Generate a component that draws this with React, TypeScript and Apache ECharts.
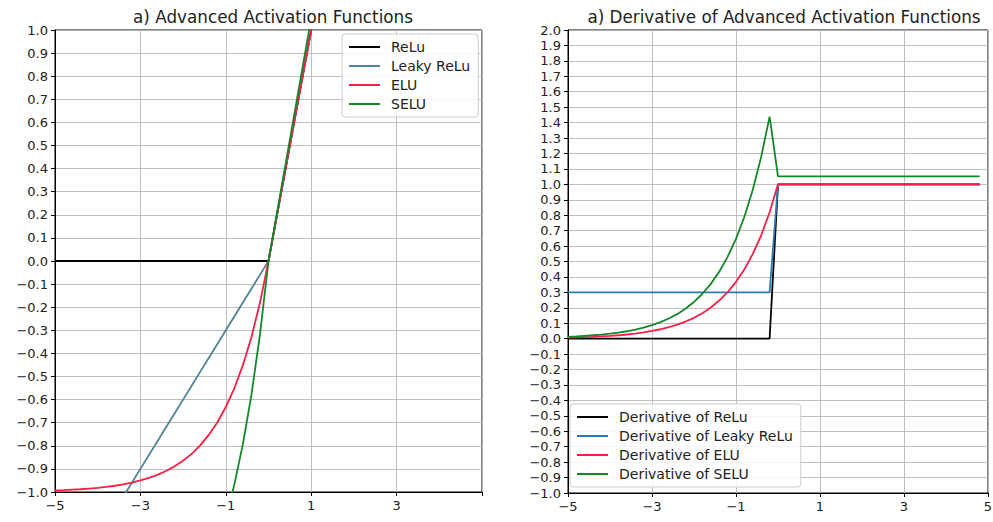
import React, { useEffect, useRef } from "react";
import * as echarts from "echarts";

// ---- data ----
const X = [-5, -4.8, -4.6, -4.4, -4.2, -4, -3.8, -3.6, -3.4, -3.2, -3, -2.8, -2.6, -2.4, -2.2, -2, -1.8, -1.6, -1.4, -1.2, -1, -0.8, -0.6, -0.4, -0.2,
  0, 0.2, 0.4, 0.6, 0.8, 1, 1.2, 1.4, 1.6, 1.8, 2, 2.2, 2.4, 2.6, 2.8, 3, 3.2, 3.4, 3.6, 3.8, 4, 4.2, 4.4, 4.6, 4.8];

const RELU = [0, 0, 0, 0, 0, 0, 0, 0, 0, 0, 0, 0, 0, 0, 0, 0, 0, 0, 0, 0, 0, 0, 0, 0, 0,
  0, 0.2, 0.4, 0.6, 0.8, 1, 1.2, 1.4, 1.6, 1.8, 2, 2.2, 2.4, 2.6, 2.8, 3, 3.2, 3.4, 3.6, 3.8, 4, 4.2, 4.4, 4.6, 4.8];
const LEAKY = [-1.5, -1.44, -1.38, -1.32, -1.26, -1.2, -1.14, -1.08, -1.02, -0.96, -0.9, -0.84, -0.78, -0.72, -0.66, -0.6, -0.54, -0.48, -0.42, -0.36, -0.3, -0.24, -0.18, -0.12, -0.06,
  0, 0.2, 0.4, 0.6, 0.8, 1, 1.2, 1.4, 1.6, 1.8, 2, 2.2, 2.4, 2.6, 2.8, 3, 3.2, 3.4, 3.6, 3.8, 4, 4.2, 4.4, 4.6, 4.8];
const ELU = [-0.993, -0.992, -0.99, -0.988, -0.985, -0.982, -0.978, -0.973, -0.967, -0.959, -0.95, -0.939, -0.926, -0.909, -0.889, -0.865, -0.835, -0.798, -0.753, -0.699, -0.632, -0.551, -0.451, -0.33, -0.181,
  0, 0.2, 0.4, 0.6, 0.8, 1, 1.2, 1.4, 1.6, 1.8, 2, 2.2, 2.4, 2.6, 2.8, 3, 3.2, 3.4, 3.6, 3.8, 4, 4.2, 4.4, 4.6, 4.8];
const SELU = [-1.746, -1.744, -1.74, -1.737, -1.732, -1.726, -1.719, -1.71, -1.699, -1.686, -1.671, -1.651, -1.628, -1.599, -1.563, -1.52, -1.468, -1.403, -1.325, -1.229, -1.111, -0.968, -0.793, -0.58, -0.319,
  0, 0.21, 0.42, 0.63, 0.841, 1.051, 1.261, 1.471, 1.681, 1.891, 2.101, 2.312, 2.522, 2.732, 2.942, 3.152, 3.362, 3.572, 3.783, 3.993, 4.203, 4.413, 4.623, 4.833, 5.043];

const D_RELU = [0, 0, 0, 0, 0, 0, 0, 0, 0, 0, 0, 0, 0, 0, 0, 0, 0, 0, 0, 0, 0, 0, 0, 0, 0,
  1, 1, 1, 1, 1, 1, 1, 1, 1, 1, 1, 1, 1, 1, 1, 1, 1, 1, 1, 1, 1, 1, 1, 1, 1];
const D_LEAKY = [0.3, 0.3, 0.3, 0.3, 0.3, 0.3, 0.3, 0.3, 0.3, 0.3, 0.3, 0.3, 0.3, 0.3, 0.3, 0.3, 0.3, 0.3, 0.3, 0.3, 0.3, 0.3, 0.3, 0.3, 0.3,
  1, 1, 1, 1, 1, 1, 1, 1, 1, 1, 1, 1, 1, 1, 1, 1, 1, 1, 1, 1, 1, 1, 1, 1, 1];
const D_ELU = [0.007, 0.008, 0.01, 0.012, 0.015, 0.018, 0.022, 0.027, 0.033, 0.041, 0.05, 0.061, 0.074, 0.091, 0.111, 0.135, 0.165, 0.202, 0.247, 0.301, 0.368, 0.449, 0.549, 0.67, 0.819,
  1, 1, 1, 1, 1, 1, 1, 1, 1, 1, 1, 1, 1, 1, 1, 1, 1, 1, 1, 1, 1, 1, 1, 1, 1];
const D_SELU = [0.012, 0.014, 0.018, 0.022, 0.026, 0.032, 0.039, 0.048, 0.059, 0.072, 0.088, 0.107, 0.131, 0.159, 0.195, 0.238, 0.291, 0.355, 0.434, 0.53, 0.647, 0.79, 0.965, 1.178, 1.439,
  1.051, 1.051, 1.051, 1.051, 1.051, 1.051, 1.051, 1.051, 1.051, 1.051, 1.051, 1.051, 1.051, 1.051, 1.051, 1.051, 1.051, 1.051, 1.051, 1.051, 1.051, 1.051, 1.051, 1.051, 1.051];

const LEFT_NAMES = ["ReLu", "Leaky ReLu", "ELU", "SELU"];
const RIGHT_NAMES = ["Derivative of ReLu", "Derivative of Leaky ReLu", "Derivative of ELU", "Derivative of SELU"];
const TITLES = ["a) Advanced Activation Functions", "a) Derivative of Advanced Activation Functions"];

const FONT = "DejaVu Sans";
const TXT = "#222222";
const COLORS_L = ["#000000", "#4f8496", "#fa1e44", "#15872b"];
const COLORS_R = ["#000000", "#2b7bb3", "#fa1e44", "#15872b"];

const pairs = (ys: number[]) => X.map((x, i) => [x, ys[i]]);
const fmtY = (v: number) => {
  let r = Math.round(v * 10) / 10;
  if (Math.abs(r) < 1e-9) r = 0;
  return r.toFixed(1).replace("-", "\u2212");
};
const fmtX = (hide5: boolean) => (v: number) => {
  const r = Math.round(v);
  if (hide5 && r === 5) return "";
  return String(r).replace("-", "\u2212");
};

const gridLine = { show: true, lineStyle: { color: "#b8b8b8", width: 0.9 } };
const axisLine = { show: true, onZero: false, lineStyle: { color: "#000", width: 1 } };
const axisTick = { show: true, length: 4, lineStyle: { color: "#000", width: 1 } };
const label = { color: TXT, fontFamily: FONT, fontSize: 13, margin: 7 };

const legendBase = {
  orient: "vertical" as const,
  icon: "rect",
  itemWidth: 31,
  itemHeight: 2,
  itemGap: 3,
  padding: [5, 8, 5, 7],
  backgroundColor: "rgba(255,255,255,0.85)",
  borderColor: "#cccccc",
  borderWidth: 1,
  borderRadius: 3,
  textStyle: { color: TXT, fontFamily: FONT, fontSize: 14, lineHeight: 16, padding: [0, 0, 0, 6] },
};

export default function App() {
  const ref = useRef<HTMLDivElement>(null);
  useEffect(() => {
    if (!ref.current) return;
    const chart = echarts.init(ref.current, undefined, { renderer: "svg" });
    const leftData = [RELU, LEAKY, ELU, SELU];
    const rightData = [D_RELU, D_LEAKY, D_ELU, D_SELU];
    const titleStyle = { fontFamily: FONT, fontSize: 16.8, fontWeight: "normal", color: TXT };
    const option: any = {
      animation: false,
      backgroundColor: "#ffffff",
      title: [
        { text: TITLES[0], left: 268, top: 3, textAlign: "center", textStyle: titleStyle },
        { text: TITLES[1], left: 779, top: 3, textAlign: "center", textStyle: titleStyle },
      ],
      grid: [
        { left: 55, top: 30, width: 427, height: 462, show: true, borderColor: "#000", borderWidth: 1, containLabel: false, outerBoundsMode: "none" },
        { left: 568, top: 30, width: 420, height: 463, show: true, borderColor: "#000", borderWidth: 1, containLabel: false, outerBoundsMode: "none" },
      ],
      xAxis: [
        { type: "value", gridIndex: 0, min: -5, max: 5, interval: 2, axisLine, axisTick, splitLine: gridLine, axisLabel: { ...label, formatter: fmtX(true) } },
        { type: "value", gridIndex: 1, min: -5, max: 5, interval: 2, axisLine, axisTick, splitLine: gridLine, axisLabel: { ...label, formatter: fmtX(false) } },
      ],
      yAxis: [
        { type: "value", gridIndex: 0, min: -1, max: 1, interval: 0.1, axisLine, axisTick, splitLine: gridLine, axisLabel: { ...label, formatter: fmtY } },
        { type: "value", gridIndex: 1, min: -1, max: 2, interval: 0.1, axisLine, axisTick, splitLine: gridLine, axisLabel: { ...label, formatter: fmtY } },
      ],
      legend: [
        { ...legendBase, data: LEFT_NAMES, left: 342, top: 34 },
        { ...legendBase, data: RIGHT_NAMES, left: 570, top: 404 },
      ],
      series: [
        ...LEFT_NAMES.map((n, i) => ({
          name: n, type: "line", xAxisIndex: 0, yAxisIndex: 0, data: pairs(leftData[i]),
          showSymbol: false, symbol: "none", clip: true, color: COLORS_L[i],
          lineStyle: { color: COLORS_L[i], width: 1.8 },
        })),
        ...RIGHT_NAMES.map((n, i) => ({
          name: n, type: "line", xAxisIndex: 1, yAxisIndex: 1, data: pairs(rightData[i]),
          showSymbol: false, symbol: "none", clip: true, color: COLORS_R[i],
          lineStyle: { color: COLORS_R[i], width: 1.8 },
        })),
      ],
    };
    chart.setOption(option);
    return () => chart.dispose();
  }, []);
  return <div ref={ref} style={{ position: "absolute", left: 0, top: 0, width: 993, height: 522 }} />;
}
